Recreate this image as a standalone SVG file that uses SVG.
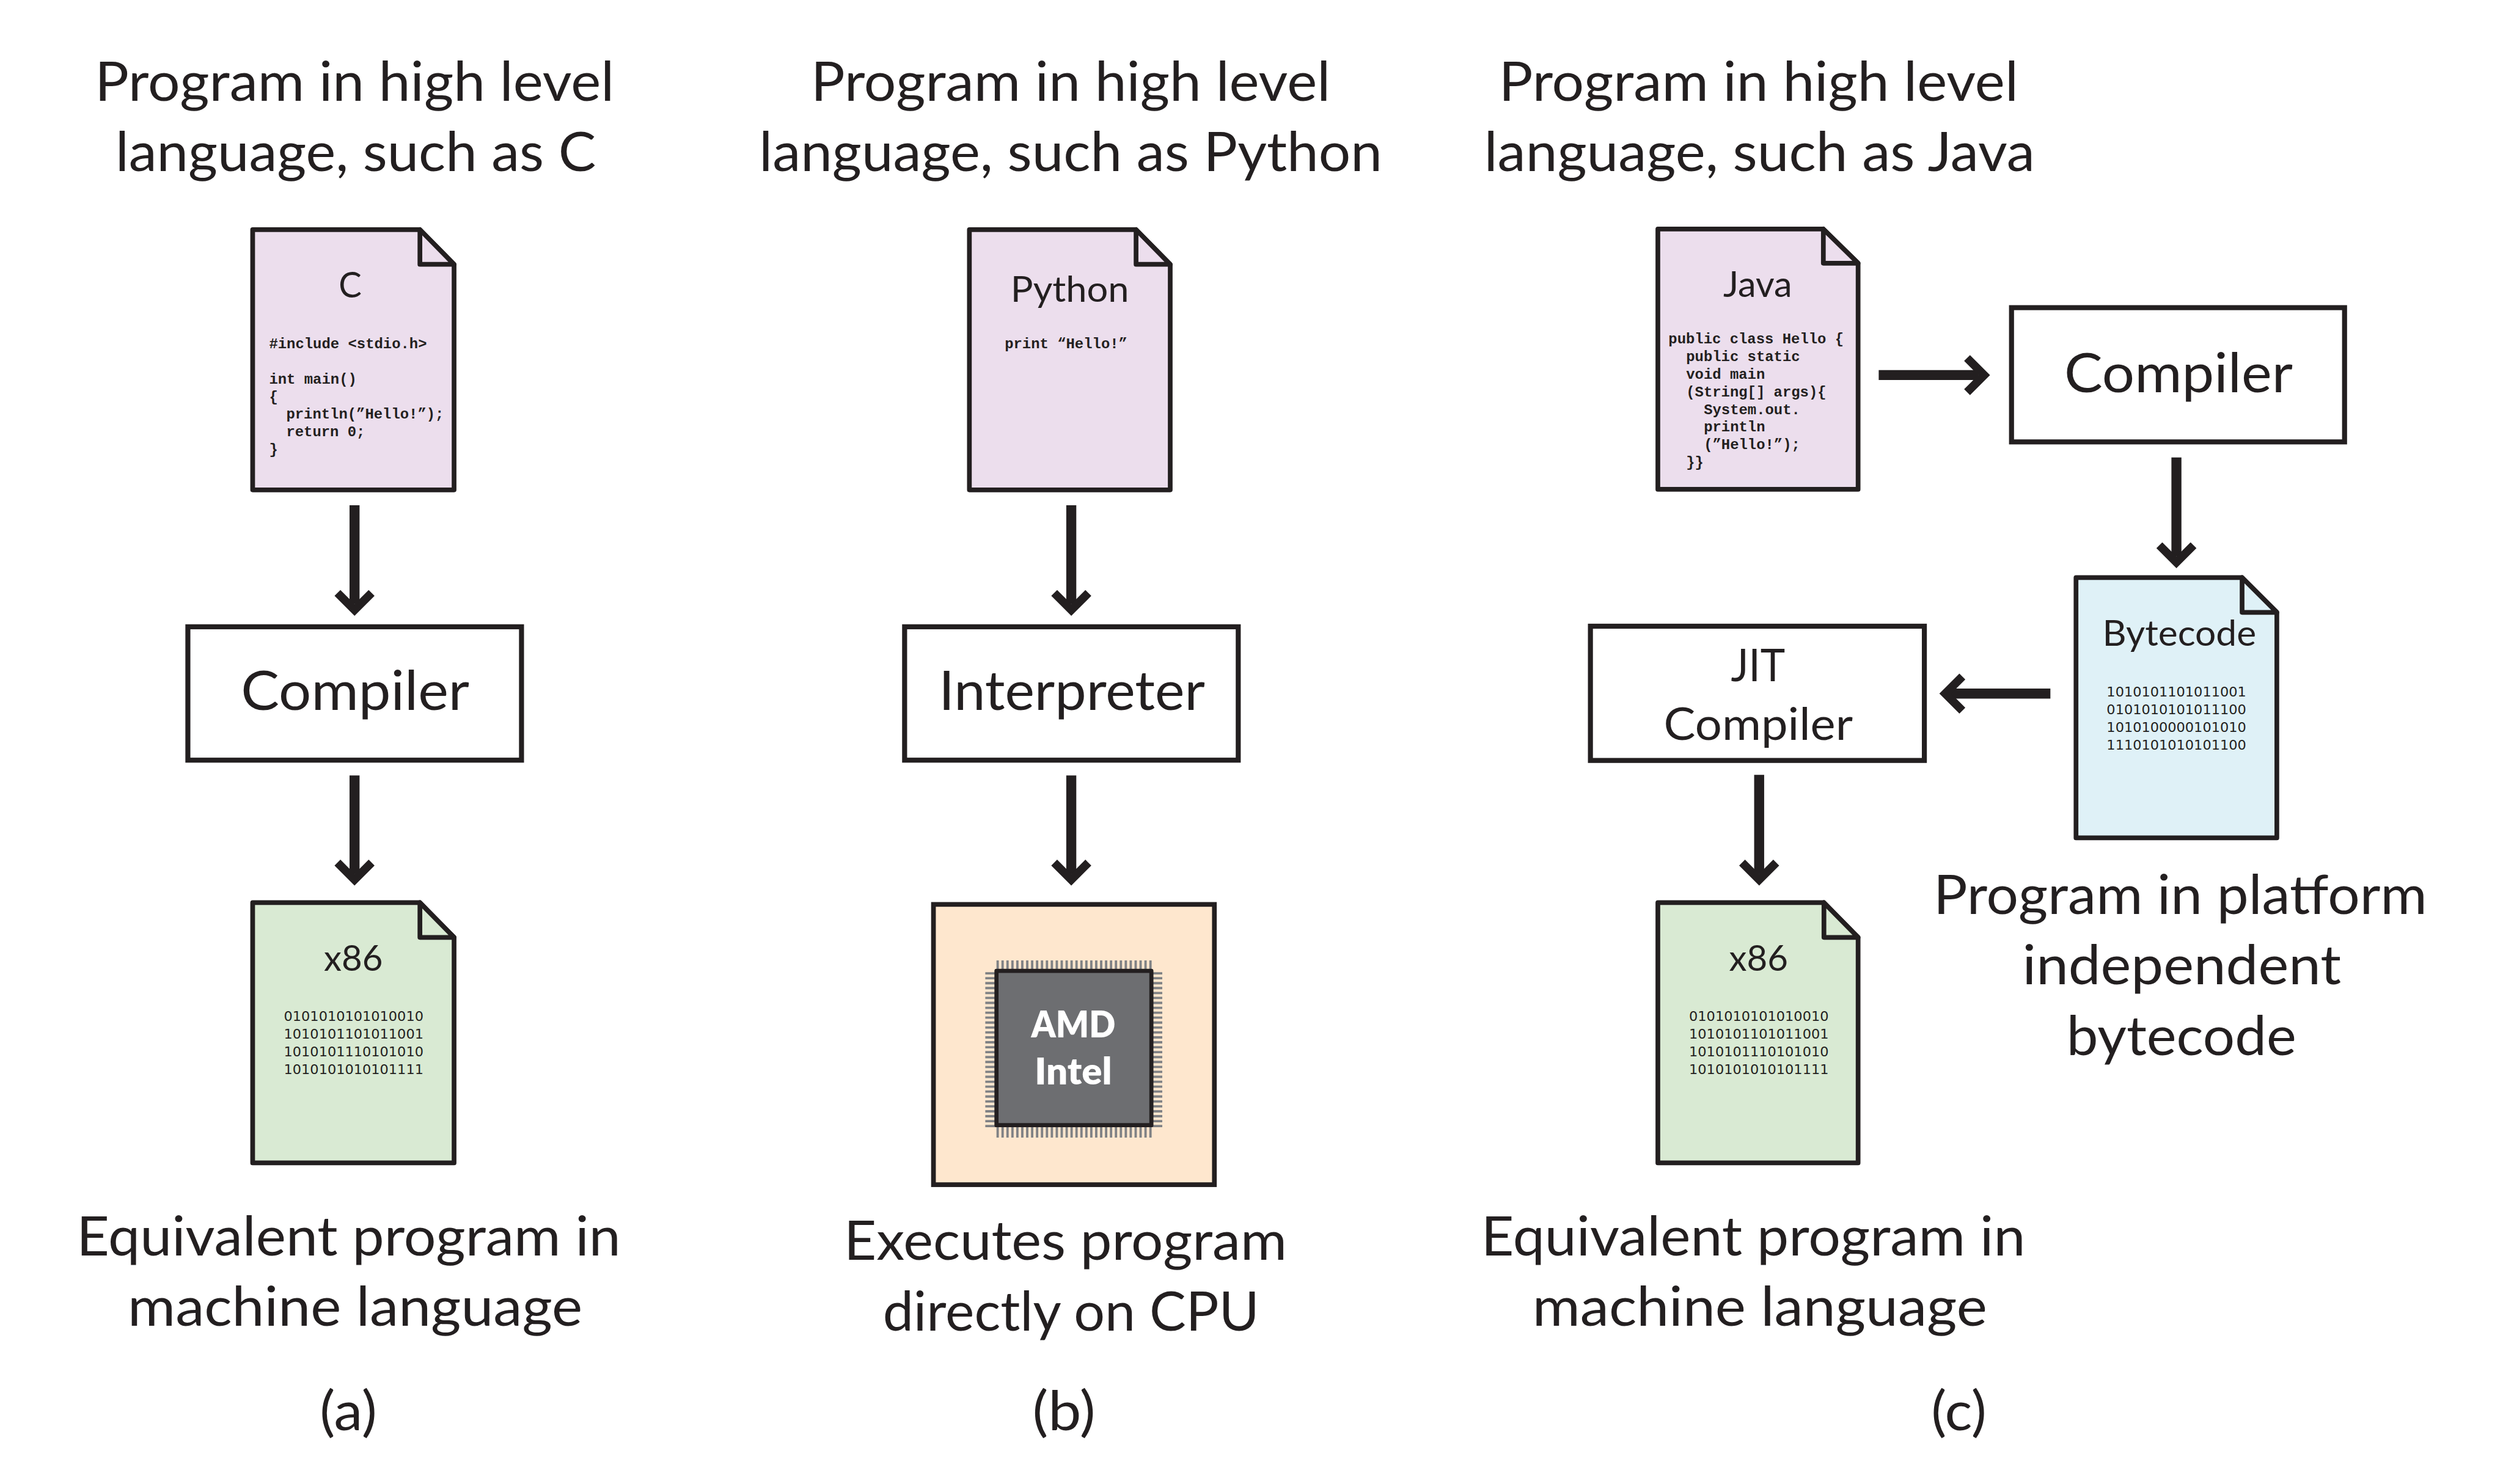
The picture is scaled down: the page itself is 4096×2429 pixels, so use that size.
<svg xmlns="http://www.w3.org/2000/svg" width="4096" height="2429" viewBox="0 0 4096 2429">
<style>
text{fill:#231f20;font-family:"Lato","Open Sans",sans-serif}
.h{font-size:92px}
.m{font-size:77px}
.t{font-size:60px}
.code{font-family:"Liberation Mono",monospace;font-weight:700;font-size:24.8px}
.bin{font-family:"DejaVu Sans",sans-serif;font-size:22px}
.chipt{font-size:62px;font-weight:800;fill:#fff}
.doc{stroke:#231f20;stroke-width:8;stroke-linejoin:round}
.box{fill:#fff;stroke:#231f20;stroke-width:8.5}
.lilac{fill:#ecdeed}.green{fill:#d9ead3}.blue{fill:#dff1f7}
.pin{stroke:#808285;fill:none;stroke-dasharray:4 4.37}
.conn{stroke:#231f20;stroke-width:17;fill:none;marker-end:url(#arrow)}
</style>
<defs>
<marker id="arrow" markerUnits="userSpaceOnUse" markerWidth="46" markerHeight="70" viewBox="0 0 46 70" refX="24" refY="35" orient="auto">
<polygon points="44,35 10,1 0,11 24,35 0,59 10,69" fill="#231f20"/>
</marker>
</defs>
<rect width="4096" height="2429" fill="#fff"/>
<g transform="scale(0.96376)">

<g id="captions-a">
<text class="h" x="161" y="171" textLength="882" lengthAdjust="spacingAndGlyphs">Program in high level</text>
<text class="h" x="196" y="291" textLength="816" lengthAdjust="spacingAndGlyphs">language, such as C</text>
<text class="h" x="130" y="2132" textLength="924" lengthAdjust="spacingAndGlyphs">Equivalent program in</text>
<text class="h" x="217" y="2252" textLength="772" lengthAdjust="spacingAndGlyphs">machine language</text>
<text class="h" x="543" y="2429" textLength="97" lengthAdjust="spacingAndGlyphs">(a)</text>
</g>
<g id="captions-b">
<text class="h" x="1377" y="171" textLength="882" lengthAdjust="spacingAndGlyphs">Program in high level</text>
<text class="h" x="1289" y="291" textLength="1058" lengthAdjust="spacingAndGlyphs">language, such as Python</text>
<text class="h" x="1433" y="2140" textLength="752" lengthAdjust="spacingAndGlyphs">Executes program</text>
<text class="h" x="1499" y="2260" textLength="639" lengthAdjust="spacingAndGlyphs">directly on CPU</text>
<text class="h" x="1753" y="2429" textLength="107" lengthAdjust="spacingAndGlyphs">(b)</text>
</g>
<g id="captions-c">
<text class="h" x="2545" y="171" textLength="882" lengthAdjust="spacingAndGlyphs">Program in high level</text>
<text class="h" x="2520" y="291" textLength="935" lengthAdjust="spacingAndGlyphs">language, such as Java</text>
<text class="h" x="3283" y="1552" textLength="838" lengthAdjust="spacingAndGlyphs">Program in platform</text>
<text class="h" x="3434" y="1672" textLength="541" lengthAdjust="spacingAndGlyphs">independent</text>
<text class="h" x="3509" y="1792" textLength="390" lengthAdjust="spacingAndGlyphs">bytecode</text>
<text class="h" x="2515" y="2132" textLength="924" lengthAdjust="spacingAndGlyphs">Equivalent program in</text>
<text class="h" x="2602" y="2252" textLength="772" lengthAdjust="spacingAndGlyphs">machine language</text>
<text class="h" x="3279" y="2429" textLength="94" lengthAdjust="spacingAndGlyphs">(c)</text>
</g>

<g id="doc-c">
<path class="doc lilac" d="M429 390H713L771 449V832H429Z"/>
<path class="doc lilac" d="M713 390V449H771Z"/>
<text class="t" x="575" y="505" textLength="39" lengthAdjust="spacingAndGlyphs">C</text>
<text class="code" x="457" y="591">#include &lt;stdio.h&gt;</text>
<text class="code" x="457" y="652">int main()</text>
<text class="code" x="457" y="682">{</text>
<text class="code" x="486" y="711">println(”Hello!”);</text>
<text class="code" x="486" y="741">return 0;</text>
<text class="code" x="457" y="771">}</text>
</g>

<g id="compiler-a">
<rect class="box" x="319" y="1064.5" width="566.5" height="226.5"/>
<text class="h" x="409" y="1206" textLength="388" lengthAdjust="spacingAndGlyphs">Compiler</text>
</g>

<g id="doc-x86-a">
<path class="doc green" d="M429 1533H713L771 1592V1975H429Z"/>
<path class="doc green" d="M713 1533V1592H771Z"/>
<text class="t" x="550" y="1649" textLength="100" lengthAdjust="spacingAndGlyphs">x86</text>
<text class="bin" x="482" y="1734" textLength="237" lengthAdjust="spacingAndGlyphs">0101010101010010</text>
<text class="bin" x="482" y="1764" textLength="237" lengthAdjust="spacingAndGlyphs">1010101101011001</text>
<text class="bin" x="482" y="1794" textLength="237" lengthAdjust="spacingAndGlyphs">1010101110101010</text>
<text class="bin" x="482" y="1824" textLength="237" lengthAdjust="spacingAndGlyphs">1010101010101111</text>
</g>

<g id="doc-python">
<path class="doc lilac" d="M1646 390H1929L1987 449V832H1646Z"/>
<path class="doc lilac" d="M1929 390V449H1987Z"/>
<text class="t" x="1716" y="513" textLength="201" lengthAdjust="spacingAndGlyphs">Python</text>
<text class="code" x="1706" y="591">print “Hello!”</text>
</g>

<g id="interpreter">
<rect class="box" x="1536" y="1064.5" width="566.5" height="226.5"/>
<text class="h" x="1594" y="1206" textLength="452" lengthAdjust="spacingAndGlyphs">Interpreter</text>
</g>

<g id="cpu">
<rect x="1585" y="1536" width="477" height="476" fill="#fee7ce" stroke="#231f20" stroke-width="8"/>
<path class="pin" stroke-width="18" d="M1692 1640H1957"/>
<path class="pin" stroke-width="21" d="M1692 1921.500H1957"/>
<path class="pin" stroke-width="19" d="M1682.500 1651V1915"/>
<path class="pin" stroke-width="19" d="M1964 1651V1915"/>
<rect x="1692" y="1649" width="263" height="262" fill="#6d6e71" stroke="#231f20" stroke-width="7" stroke-linejoin="round"/>
<text class="chipt" x="1751" y="1762" textLength="143" lengthAdjust="spacingAndGlyphs">AMD</text>
<text class="chipt" x="1757" y="1842" textLength="131" lengthAdjust="spacingAndGlyphs">Intel</text>
</g>

<g id="doc-java">
<path class="doc lilac" d="M2815 389H3096L3155 447V831H2815Z"/>
<path class="doc lilac" d="M3096 389V447H3155Z"/>
<text class="t" x="2926" y="504" textLength="117" lengthAdjust="spacingAndGlyphs">Java</text>
<text class="code" x="2833" y="583">public class Hello {</text>
<text class="code" x="2863" y="613">public static</text>
<text class="code" x="2863" y="643">void main</text>
<text class="code" x="2863" y="673">(String[] args){</text>
<text class="code" x="2893" y="703">System.out.</text>
<text class="code" x="2893" y="733">println</text>
<text class="code" x="2893" y="763">(”Hello!”);</text>
<text class="code" x="2863" y="793">}}</text>
</g>

<g id="compiler-c">
<rect class="box" x="3415.500" y="522.500" width="565.500" height="228"/>
<text class="h" x="3505" y="666" textLength="388" lengthAdjust="spacingAndGlyphs">Compiler</text>
</g>

<g id="doc-bytecode">
<path class="doc blue" d="M3525 981H3807L3866 1040V1423H3525Z"/>
<path class="doc blue" d="M3807 981V1040H3866Z"/>
<text class="t" x="3570" y="1097" textLength="261" lengthAdjust="spacingAndGlyphs">Bytecode</text>
<text class="bin" x="3577" y="1183" textLength="237" lengthAdjust="spacingAndGlyphs">1010101101011001</text>
<text class="bin" x="3577" y="1213" textLength="237" lengthAdjust="spacingAndGlyphs">0101010101011100</text>
<text class="bin" x="3577" y="1243" textLength="237" lengthAdjust="spacingAndGlyphs">1010100000101010</text>
<text class="bin" x="3577" y="1273" textLength="237" lengthAdjust="spacingAndGlyphs">1110101010101100</text>
</g>

<g id="jit-compiler">
<rect class="box" x="2700.500" y="1063.500" width="567" height="228"/>
<text class="m" x="2939" y="1157" textLength="92" lengthAdjust="spacingAndGlyphs">JIT</text>
<text class="m" x="2825" y="1257" textLength="321" lengthAdjust="spacingAndGlyphs">Compiler</text>
</g>

<g id="doc-x86-c">
<path class="doc green" d="M2815 1533H3097L3155 1592V1975H2815Z"/>
<path class="doc green" d="M3097 1533V1592H3155Z"/>
<text class="t" x="2936" y="1649" textLength="100" lengthAdjust="spacingAndGlyphs">x86</text>
<text class="bin" x="2868" y="1734" textLength="237" lengthAdjust="spacingAndGlyphs">0101010101010010</text>
<text class="bin" x="2868" y="1764" textLength="237" lengthAdjust="spacingAndGlyphs">1010101101011001</text>
<text class="bin" x="2868" y="1794" textLength="237" lengthAdjust="spacingAndGlyphs">1010101110101010</text>
<text class="bin" x="2868" y="1824" textLength="237" lengthAdjust="spacingAndGlyphs">1010101010101111</text>
</g>

<g id="connectors">
<path class="conn" d="M602 858V1026"/>
<path class="conn" d="M602 1317V1484"/>
<path class="conn" d="M1819 858V1026"/>
<path class="conn" d="M1819 1317V1484"/>
<path class="conn" d="M3190 637H3359"/>
<path class="conn" d="M3695.500 777V945"/>
<path class="conn" d="M3481.500 1178H3313"/>
<path class="conn" d="M2987 1316V1484"/>
</g>
</g>
</svg>
